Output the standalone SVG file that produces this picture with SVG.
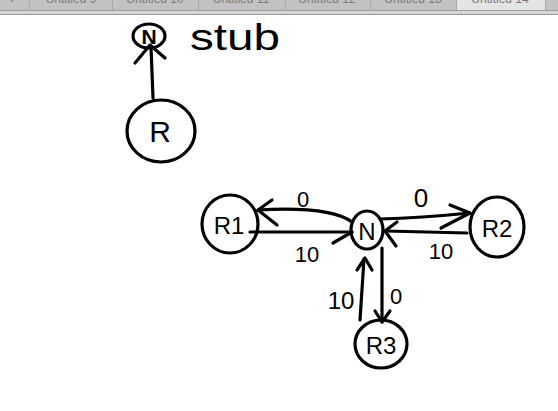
<svg xmlns="http://www.w3.org/2000/svg" width="558" height="411" viewBox="0 0 558 411">
<style>
.ink{fill:none;stroke:#000;stroke-width:3.2;stroke-linecap:round;stroke-linejoin:round}
.lbl{font-family:"Liberation Sans","DejaVu Sans",sans-serif;fill:#000;text-anchor:middle}
.tab{font-family:"Liberation Sans",sans-serif;font-size:12px;fill:#7a7a7a;text-anchor:middle}
</style>
<rect width="558" height="411" fill="#fff"/>
<g id="tabbar">
<rect x="0" y="0" width="558" height="10" fill="#c2c2c2"/>
<rect x="456" y="0" width="89" height="10" fill="#e4e4e4"/>
<g stroke="#a8a8a8" stroke-width="1">
<line x1="29.5" y1="0" x2="29.5" y2="10"/><line x1="112.5" y1="0" x2="112.5" y2="10"/>
<line x1="198.5" y1="0" x2="198.5" y2="10"/><line x1="285.5" y1="0" x2="285.5" y2="10"/>
<line x1="370.5" y1="0" x2="370.5" y2="10"/><line x1="456.5" y1="0" x2="456.5" y2="10"/>
<line x1="545.5" y1="0" x2="545.5" y2="10"/>
</g>
<text class="tab" x="12" y="3">‹</text>
<text class="tab" x="71" y="3">Untitled 9</text>
<text class="tab" x="155" y="3">Untitled 10</text>
<text class="tab" x="241" y="3">Untitled 11</text>
<text class="tab" x="327" y="3">Untitled 12</text>
<text class="tab" x="413" y="3">Untitled 13</text>
<text class="tab" x="500" y="3">Untitled 14</text>
<rect x="0" y="10" width="558" height="1" fill="#a0a0a0"/>
<rect x="0" y="11" width="558" height="3" fill="#d6d6d6"/>
<rect x="0" y="14" width="558" height="1" fill="#9a9a9a"/>
</g>
<g id="node-N-stub">
<ellipse class="ink" cx="149" cy="36" rx="16" ry="12"/>
<text class="lbl" x="149" y="44" font-size="21" font-weight="bold">N</text>
</g>
<g id="label-stub">
<text class="lbl" x="235" y="50" font-size="36" textLength="90" lengthAdjust="spacingAndGlyphs">stub</text>
</g>
<g id="node-R">
<ellipse class="ink" cx="161" cy="131" rx="34" ry="31"/>
<text class="lbl" x="160" y="142" font-size="30">R</text>
</g>
<g id="node-R1">
<ellipse class="ink" cx="230" cy="224" rx="28" ry="29"/>
<text class="lbl" x="229" y="234" font-size="24">R1</text>
</g>
<g id="node-N">
<ellipse class="ink" cx="367" cy="230" rx="16" ry="19"/>
<text class="lbl" x="367" y="240" font-size="24">N</text>
</g>
<g id="node-R2">
<ellipse class="ink" cx="497" cy="227" rx="27" ry="30"/>
<text class="lbl" x="497" y="237" font-size="24">R2</text>
</g>
<g id="node-R3">
<ellipse class="ink" cx="381" cy="344" rx="26" ry="24"/>
<text class="lbl" x="381" y="354" font-size="24">R3</text>
</g>
<g id="connectors">
<path class="ink" d="M153 98 L151 47"/>
<path class="ink" d="M135 63 L150 45 L165 58"/>
<path class="ink" d="M352 222 Q330 206 258 210"/>
<path class="ink" d="M272 200 L258 210 L277 225"/>
<path class="ink" d="M250 232 L352 232"/>
<path class="ink" d="M333 243 L352 232"/>
<path class="ink" d="M380 219 Q420 218 470 213"/>
<path class="ink" d="M450 205 L470 213 L441 228"/>
<path class="ink" d="M467 233 L386 231"/>
<path class="ink" d="M397 222 L385 231 L396 246"/>
<path class="ink" d="M360 320 L364 259"/>
<path class="ink" d="M357 270 L365 258 L372 270"/>
<path class="ink" d="M382 248 L382 322"/>
<path class="ink" d="M375 311 L382 322 L390 311"/>
</g>
<g id="edge-labels">
<text class="lbl" x="303" y="207" font-size="22">0</text>
<text class="lbl" x="307" y="262" font-size="22">10</text>
<text class="lbl" x="421" y="207" font-size="26">0</text>
<text class="lbl" x="441" y="259" font-size="22">10</text>
<text class="lbl" x="341" y="309" font-size="24">10</text>
<text class="lbl" x="396" y="304" font-size="22">0</text>
</g>
</svg>
